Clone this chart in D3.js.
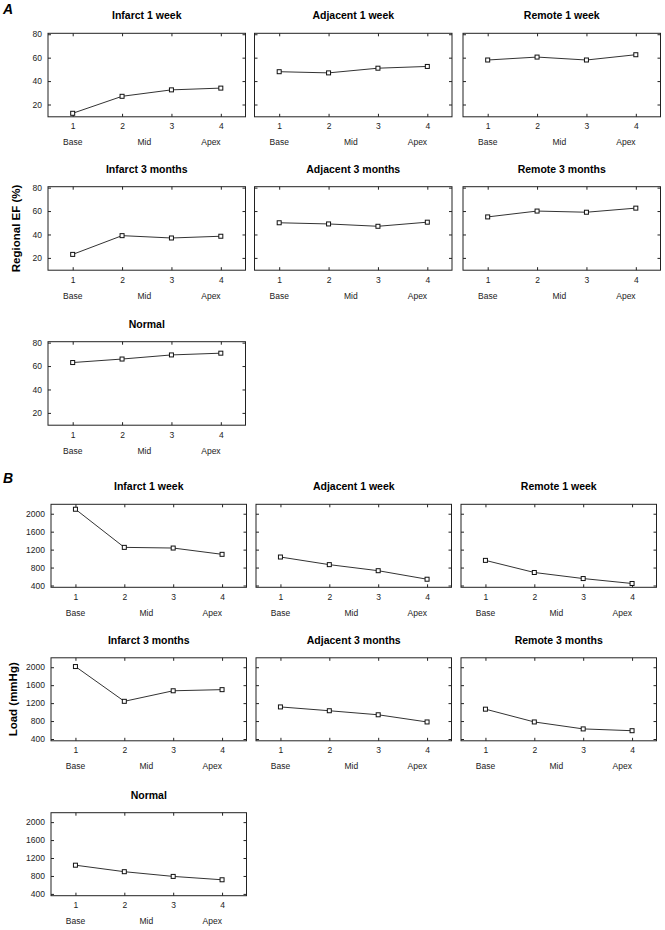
<!DOCTYPE html>
<html><head><meta charset="utf-8">
<script src="https://cdn.jsdelivr.net/npm/d3@7"></script>
<style>body{margin:0;background:#fff} svg{display:block} text{font-family:Arial,"Liberation Sans",sans-serif}</style>
</head><body><svg id="c" width="665" height="930"></svg>
<script>
const segments = [1, 2, 3, 4];
const regionLabels = ["Base", "Mid", "Apex"];
const regionPos = [1, 2.45, 3.8];
const panelTitles = ["Infarct 1 week", "Adjacent 1 week", "Remote 1 week",
  "Infarct 3 months", "Adjacent 3 months", "Remote 3 months", "Normal"];
const efTicks = [20, 40, 60, 80];
const loadTicks = [400, 800, 1200, 1600, 2000];

const efInfarct1w = [12.5, 27, 32.5, 34];
const efAdjacent1w = [48, 47, 51, 52.5];
const efRemote1w = [58, 60.5, 58, 62.5];
const efInfarct3m = [23, 39, 37, 38.5];
const efAdjacent3m = [50, 49, 47, 50.5];
const efRemote3m = [55, 60, 59, 62.5];
const efNormal = [63, 66, 69.5, 71];

const loadInfarct1w = [2100, 1250, 1235, 1095];
const loadAdjacent1w = [1035, 865, 730, 540];
const loadRemote1w = [960, 690, 555, 445];
const loadInfarct3m = [2015, 1240, 1475, 1500];
const loadAdjacent3m = [1115, 1030, 940, 780];
const loadRemote3m = [1065, 780, 625, 585];
const loadNormal = [1040, 895, 790, 715];

const sections = [
  { letter: "A", letterY: 13.5, ylabel: "Regional EF (%)", ylabelX: 20,
    rowTops: [33.3, 186.7, 341.7], colLefts: [48, 254.5, 463], w: 197.5, h: 83.5,
    domain: [9.5, 80.8], ticks: efTicks,
    series: [efInfarct1w, efAdjacent1w, efRemote1w, efInfarct3m, efAdjacent3m, efRemote3m, efNormal] },
  { letter: "B", letterY: 483, ylabel: "Load (mmHg)", ylabelX: 16.5,
    rowTops: [504.3, 657.8, 812.7], colLefts: [51, 256, 461], w: 195.5, h: 83,
    domain: [360, 2210], ticks: loadTicks,
    series: [loadInfarct1w, loadAdjacent1w, loadRemote1w, loadInfarct3m, loadAdjacent3m, loadRemote3m, loadNormal] }
];

const svg = d3.select("#c");
const ink = "#222";

sections.forEach(sec => {
  svg.append("text").attr("x", 3).attr("y", sec.letterY)
    .attr("font-size", 14).attr("font-weight", "bold").attr("font-style", "italic")
    .attr("fill", "#000").text(sec.letter);
  const midY = sec.rowTops[1] + sec.h / 2;
  svg.append("text").attr("transform", `translate(${sec.ylabelX},${midY}) rotate(-90)`)
    .attr("text-anchor", "middle").attr("font-size", 11.5).attr("font-weight", "bold")
    .attr("fill", "#000").text(sec.ylabel);

  sec.series.forEach((vals, i) => {
    const row = Math.floor(i / 3), col = i % 3;
    const x0 = sec.colLefts[col], y0 = sec.rowTops[row];
    const g = svg.append("g").attr("transform", `translate(${x0},${y0})`);
    const x = d3.scaleLinear().domain([0.5, 4.5]).range([0, sec.w]);
    const y = d3.scaleLinear().domain(sec.domain).range([sec.h, 0]);

    g.append("text").attr("x", sec.w / 2).attr("y", -14).attr("text-anchor", "middle")
      .attr("font-size", 10.5).attr("font-weight", "bold").attr("fill", "#000")
      .text(panelTitles[i]);

    const left = g.append("g").call(d3.axisLeft(y).tickValues(sec.ticks).tickSize(-3).tickPadding(6)
      .tickFormat(col === 0 ? d3.format("d") : () => ""));
    const right = g.append("g").attr("transform", `translate(${sec.w},0)`)
      .call(d3.axisRight(y).tickValues(sec.ticks).tickSize(-3).tickFormat(() => ""));
    const top = g.append("g").call(d3.axisTop(x).tickValues(segments).tickSize(-3).tickFormat(() => ""));
    const bottom = g.append("g").attr("transform", `translate(0,${sec.h})`)
      .call(d3.axisBottom(x).tickValues(segments).tickSize(-3).tickPadding(6.6).tickFormat(d3.format("d")));
    [left, right, top, bottom].forEach(a => {
      a.select(".domain").remove();
      a.selectAll("line").attr("stroke", ink);
      a.selectAll("text").attr("font-size", 8.5).attr("fill", ink).attr("font-family", "Arial, 'Liberation Sans', sans-serif");
    });

    g.append("rect").attr("x", 0).attr("y", 0).attr("width", sec.w).attr("height", sec.h)
      .attr("fill", "none").attr("stroke", ink).attr("stroke-width", 1);

    g.selectAll(".rl").data(regionLabels).enter().append("text")
      .attr("x", (d, k) => x(regionPos[k])).attr("y", sec.h + 28.5)
      .attr("text-anchor", "middle").attr("font-size", 8.5).attr("fill", ink).text(d => d);

    const pts = segments.map((s, k) => [s, vals[k]]);
    g.append("path").datum(pts)
      .attr("d", d3.line().x(d => x(d[0])).y(d => y(d[1])))
      .attr("fill", "none").attr("stroke", "#333").attr("stroke-width", 1);
    g.selectAll(".m").data(pts).enter().append("rect")
      .attr("x", d => x(d[0]) - 2).attr("y", d => y(d[1]) - 2)
      .attr("width", 4).attr("height", 4)
      .attr("fill", "#fff").attr("stroke", "#111").attr("stroke-width", 1);
  });
});
</script>
</body></html>
